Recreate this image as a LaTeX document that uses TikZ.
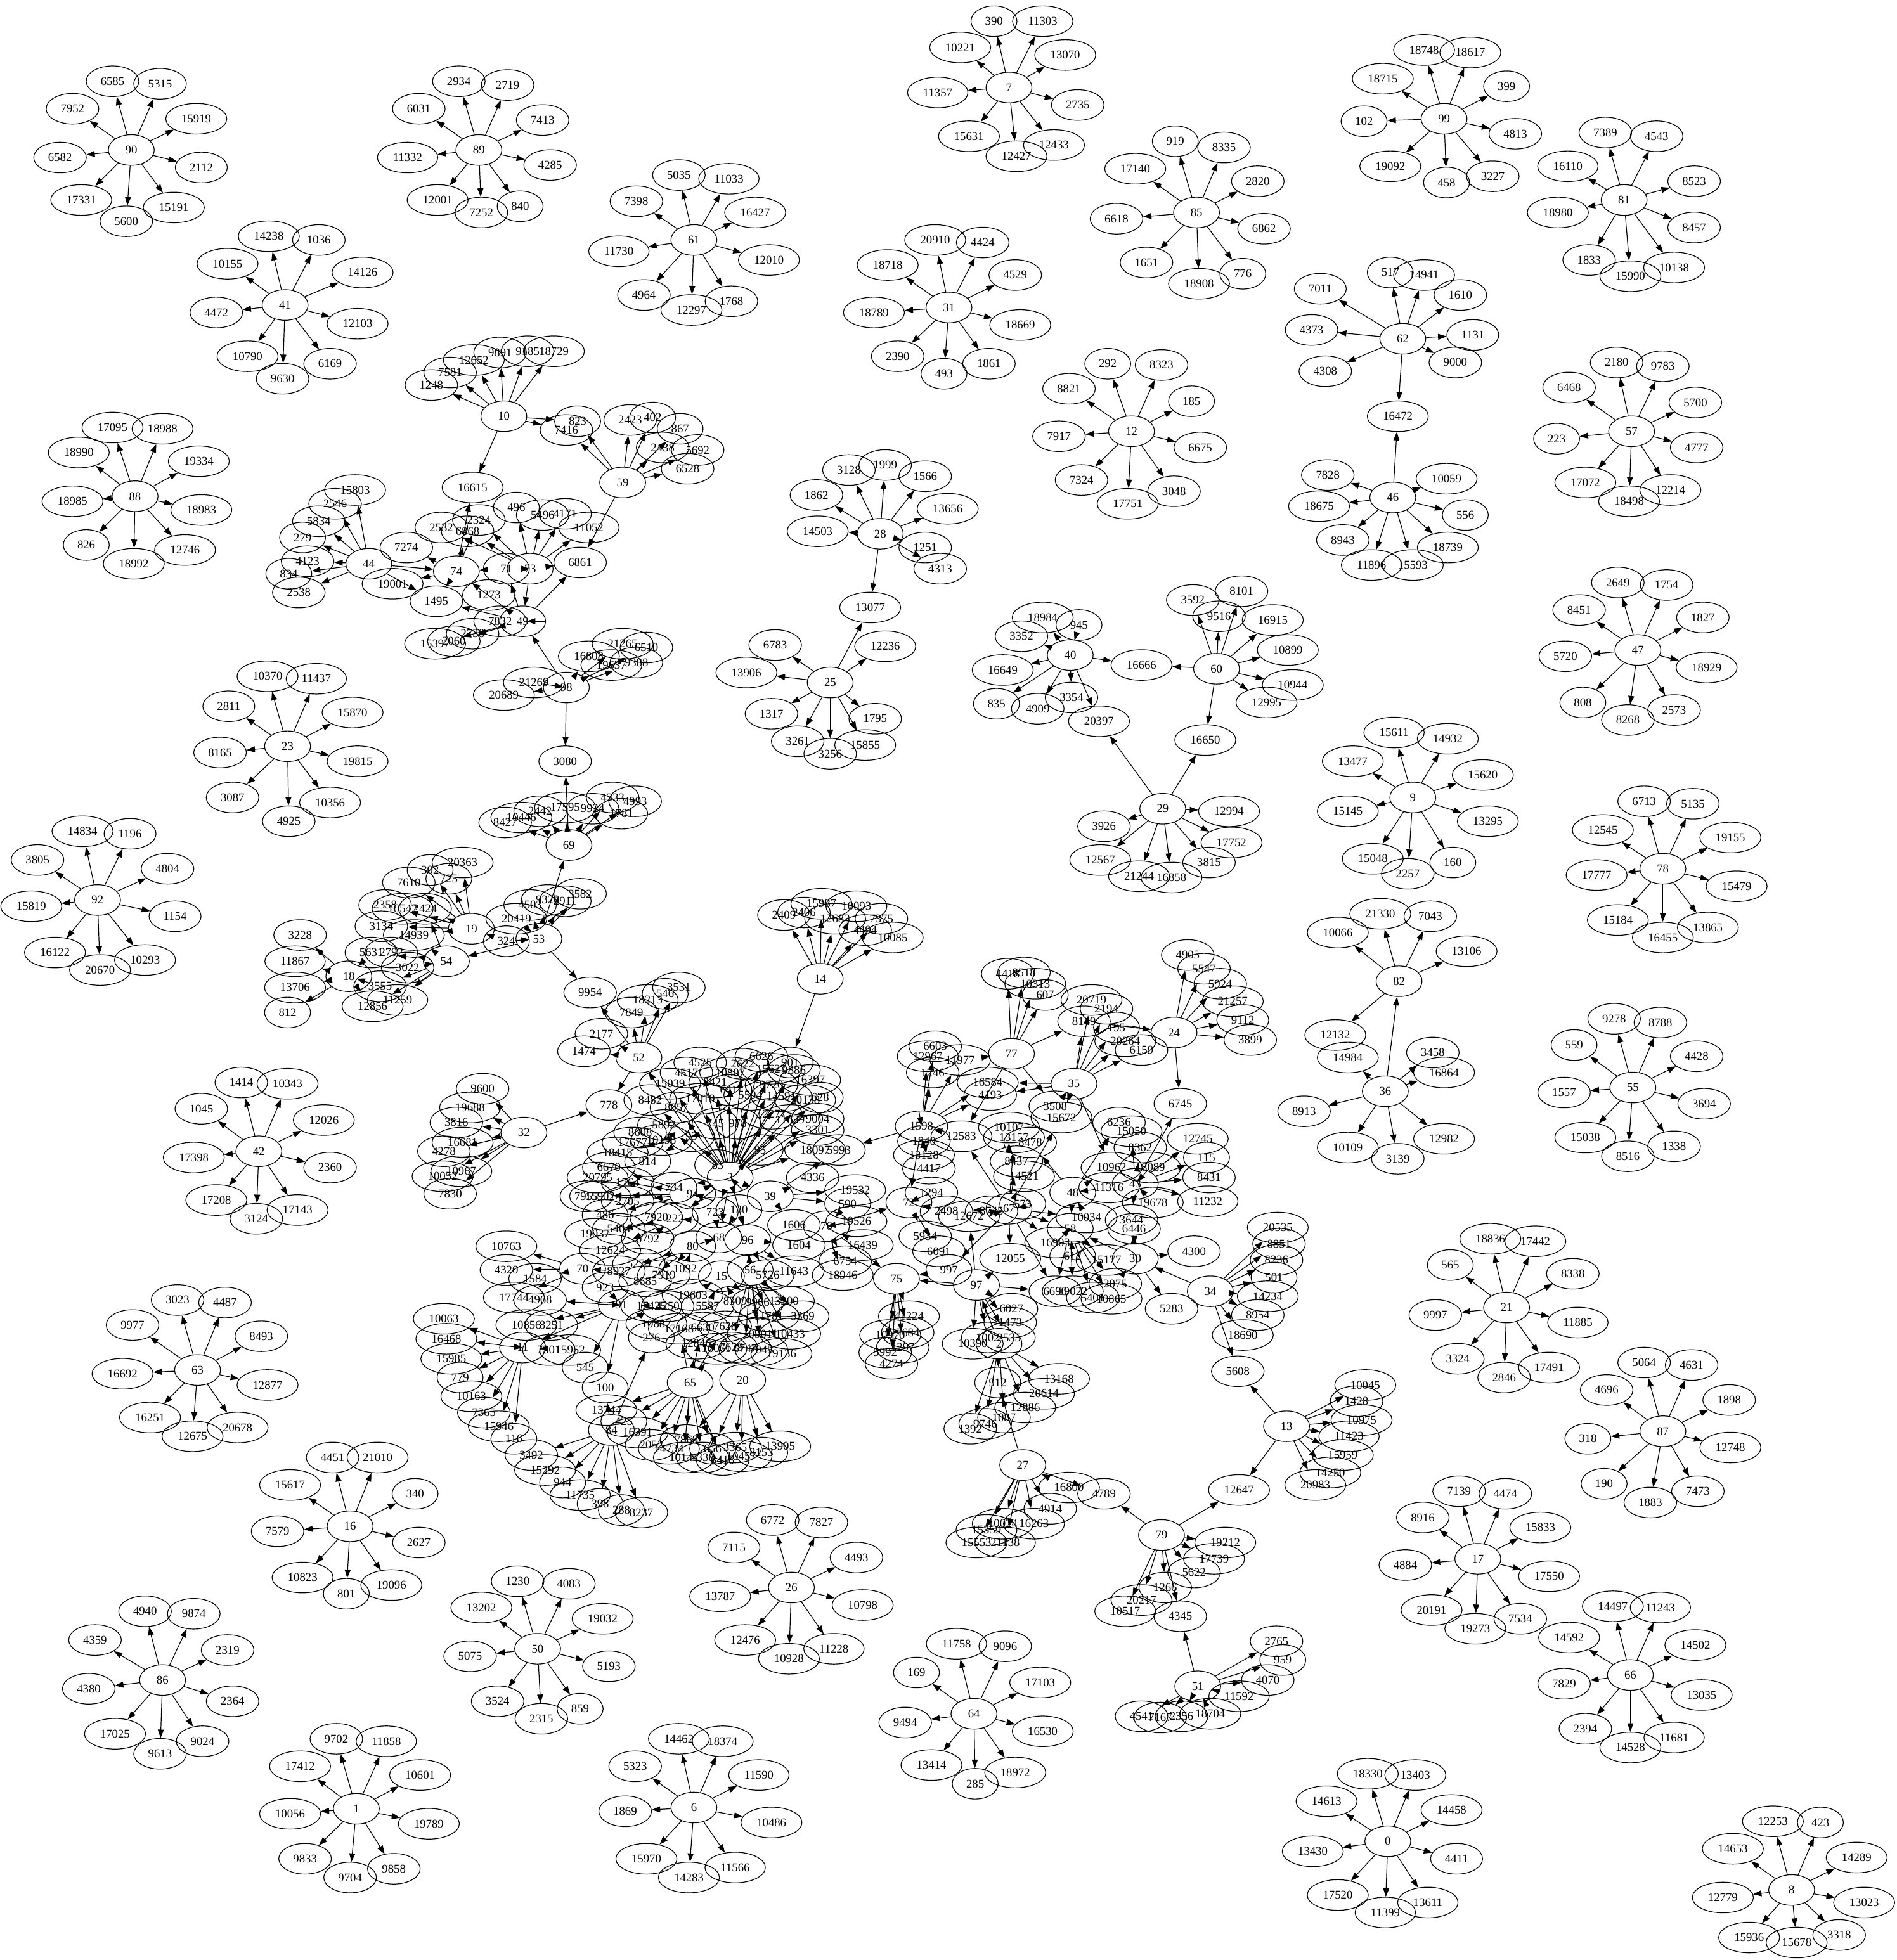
\documentclass[tikz,border=0pt]{standalone}
\usepackage{fontspec}
\setmainfont{Liberation Serif}
\usetikzlibrary{shapes.geometric,arrows.meta}
\tikzset{
  vtx/.style={draw, ellipse, line width=0.9pt, minimum width=0.75in, minimum height=0.5in,
    inner xsep=0.11in, inner ysep=0.055in, font=\fontsize{14pt}{16pt}\selectfont},
  link/.style={line width=0.9pt, -{Triangle[length=10pt,width=7pt]}},
}
\begin{document}
\begin{tikzpicture}[x=0.05184cm, y=-0.05184cm]
\fill[white] (0,0) rectangle (1517,1568);
\useasboundingbox (0,0) rectangle (1517,1568);

% ---------- outer stars ----------
% star 90
\foreach \l/\x/\y in {90/105/120, 6585/90/65, 5315/128/67, 7952/58/87, 15919/157/95, 6582/48/126, 2112/161/134, 17331/65/160, 5600/101/177, 15191/139/166}
  \node[vtx] (n\l) at (\x,\y) {\l};
\foreach \t in {6585,5315,7952,15919,6582,2112,17331,5600,15191} \draw[link] (n90) -- (n\t);
% star 7
\foreach \l/\x/\y in {7/807/70, 390/795/17, 11303/834/17, 10221/768/38, 13070/852/44, 11357/750/74, 2735/862/84, 15631/775/109, 12427/813/125, 12433/843/116}
  \node[vtx] (n\l) at (\x,\y) {\l};
\foreach \t in {390,11303,10221,13070,11357,2735,15631,12427,12433} \draw[link] (n7) -- (n\t);
% star 89
\foreach \l/\x/\y in {89/383/120, 2934/367/65, 2719/406/68, 6031/335/87, 7413/434/96, 11332/326/126, 4285/440/132, 12001/350/160, 7252/385/170, 840/416/165}
  \node[vtx] (n\l) at (\x,\y) {\l};
\foreach \t in {2934,2719,6031,7413,11332,4285,12001,7252,840} \draw[link] (n89) -- (n\t);
% star 99
\foreach \l/\x/\y in {99/1155/95, 18748/1139/40, 18617/1176/42, 18715/1106/63, 399/1205/69, 102/1091/97, 4813/1212/107, 19092/1112/133, 458/1157/146, 3227/1194/141}
  \node[vtx] (n\l) at (\x,\y) {\l};
\foreach \t in {18748,18617,18715,399,102,4813,19092,458,3227} \draw[link] (n99) -- (n\t);
% star 61
\foreach \l/\x/\y in {61/555/192, 5035/543/140, 11033/583/143, 7398/509/161, 16427/604/170, 11730/495/201, 12010/615/208, 4964/515/236, 12297/553/248, 1768/585/241}
  \node[vtx] (n\l) at (\x,\y) {\l};
\foreach \t in {5035,11033,7398,16427,11730,12010,4964,12297,1768} \draw[link] (n61) -- (n\t);
% star 85
\foreach \l/\x/\y in {85/957/170, 919/940/113, 8335/979/118, 17140/908/135, 2820/1006/145, 6618/893/175, 6862/1011/183, 1651/917/210, 776/994/219, 18908/959/227}
  \node[vtx] (n\l) at (\x,\y) {\l};
\foreach \t in {919,8335,17140,2820,6618,6862,1651,776,18908} \draw[link] (n85) -- (n\t);
% star 81
\foreach \l/\x/\y in {81/1299/160, 7389/1284/106, 4543/1325/109, 16110/1254/133, 8523/1355/145, 18980/1246/170, 8457/1355/182, 1833/1271/208, 15990/1304/221, 10138/1339/214}
  \node[vtx] (n\l) at (\x,\y) {\l};
\foreach \t in {7389,4543,16110,8523,18980,8457,1833,15990,10138} \draw[link] (n81) -- (n\t);
% star 41
\foreach \l/\x/\y in {41/228/244, 14238/215/189, 1036/255/192, 10155/182/211, 14126/290/218, 4472/173/250, 12103/286/259, 10790/198/285, 9630/226/303, 6169/264/291}
  \node[vtx] (n\l) at (\x,\y) {\l};
\foreach \t in {14238,1036,10155,14126,4472,12103,10790,9630,6169} \draw[link] (n41) -- (n\t);
% star 31
\foreach \l/\x/\y in {31/759/246, 20910/748/192, 4424/786/194, 18718/710/212, 4529/812/220, 18789/699/250, 18669/816/260, 2390/718/285, 493/755/299, 1861/791/291}
  \node[vtx] (n\l) at (\x,\y) {\l};
\foreach \t in {20910,4424,18718,4529,18789,18669,2390,493,1861} \draw[link] (n31) -- (n\t);
% star 62
\foreach \l/\x/\y in {62/1122/271, 517/1112/218, 14941/1139/220, 7011/1056/231, 1610/1168/236, 4373/1049/264, 1131/1178/268, 4308/1060/297, 9000/1164/290, 16472/1118/333}
  \node[vtx] (n\l) at (\x,\y) {\l};
\foreach \t in {517,14941,7011,1610,4373,1131,4308,9000,16472} \draw[link] (n62) -- (n\t);
% star 57
\foreach \l/\x/\y in {57/1305/345, 2180/1293/290, 9783/1330/293, 6468/1255/310, 5700/1356/322, 223/1245/351, 4777/1357/358, 17072/1268/386, 18498/1303/401, 12214/1336/392}
  \node[vtx] (n\l) at (\x,\y) {\l};
\foreach \t in {2180,9783,6468,5700,223,4777,17072,18498,12214} \draw[link] (n57) -- (n\t);
% star 12
\foreach \l/\x/\y in {12/905/345, 292/886/291, 8323/929/292, 8821/855/311, 185/953/321, 7917/847/349, 6675/960/358, 7324/865/384, 17751/902/403, 3048/939/393}
  \node[vtx] (n\l) at (\x,\y) {\l};
\foreach \t in {292,8323,8821,185,7917,6675,7324,17751,3048} \draw[link] (n12) -- (n\t);
% star 88
\foreach \l/\x/\y in {88/108/397, 17095/90/342, 18988/130/343, 18990/63/362, 19334/159/369, 18985/58/401, 18983/161/408, 826/69/436, 12746/148/440, 18992/107/451}
  \node[vtx] (n\l) at (\x,\y) {\l};
\foreach \t in {17095,18988,18990,19334,18985,18983,826,12746,18992} \draw[link] (n88) -- (n\t);
% star 46
\foreach \l/\x/\y in {46/1114/398, 7828/1062/380, 10059/1157/383, 18675/1055/405, 556/1172/412, 8943/1074/432, 18739/1158/438, 11896/1097/452, 15593/1130/452}
  \node[vtx] (n\l) at (\x,\y) {\l};
\foreach \t in {7828,10059,18675,556,8943,18739,11896,15593,16472} \draw[link] (n46) -- (n\t);
% stars 28 and 25
\foreach \l/\x/\y in {28/704/427, 3128/679/376, 1999/708/372, 1862/653/396, 1566/740/381, 13656/758/407, 14503/654/425, 1251/740/438, 4313/752/455, 13077/696/486,
  25/664/546, 6783/620/516, 12236/708/517, 13906/597/538, 1795/700/575, 1317/617/571, 15855/692/596, 3261/638/593, 3256/664/603}
  \node[vtx] (n\l) at (\x,\y) {\l};
\foreach \t in {3128,1999,1862,1566,13656,14503,1251,4313,13077} \draw[link] (n28) -- (n\t);
\foreach \t in {6783,12236,13906,1795,1317,15855,3261,3256,13077} \draw[link] (n25) -- (n\t);
% stars 40, 60 and 29
\foreach \l/\x/\y in {40/856/524, 18984/834/494, 945/863/500, 3352/817/509, 16649/802/536, 835/797/563, 4909/830/567, 3354/857/558, 16666/913/532, 20397/879/577,
  60/973/535, 3592/954/480, 8101/993/473, 9516/975/493, 16915/1018/496, 10899/1030/520, 10944/1034/548, 12995/1013/562, 16650/964/592,
  29/930/647, 3926/883/661, 12994/983/649, 17752/985/674, 12567/880/688, 21244/911/701, 16858/937/702, 3815/967/690}
  \node[vtx] (n\l) at (\x,\y) {\l};
\foreach \t in {18984,945,3352,16649,835,4909,3354,16666,20397} \draw[link] (n40) -- (n\t);
\foreach \t in {3592,8101,9516,16915,10899,10944,12995,16650,16666} \draw[link] (n60) -- (n\t);
\foreach \t in {3926,12994,17752,12567,21244,16858,3815,16650,20397} \draw[link] (n29) -- (n\t);
% star 47
\foreach \l/\x/\y in {47/1310/520, 2649/1294/466, 1754/1333/468, 8451/1263/488, 1827/1362/494, 5720/1252/525, 18929/1365/534, 808/1266/562, 8268/1302/576, 2573/1339/568}
  \node[vtx] (n\l) at (\x,\y) {\l};
\foreach \t in {2649,1754,8451,1827,5720,18929,808,8268,2573} \draw[link] (n47) -- (n\t);
% star 9
\foreach \l/\x/\y in {9/1130/638, 15611/1115/586, 14932/1158/591, 13477/1082/609, 15620/1186/620, 15145/1078/649, 13295/1190/657, 15048/1098/687, 2257/1126/699, 160/1162/690}
  \node[vtx] (n\l) at (\x,\y) {\l};
\foreach \t in {15611,14932,13477,15620,15145,13295,15048,2257,160} \draw[link] (n9) -- (n\t);
% star 78
\foreach \l/\x/\y in {78/1330/695, 6713/1315/641, 5135/1354/643, 12545/1282/664, 19155/1384/670, 17777/1277/700, 15479/1389/709, 15184/1294/736, 16455/1330/750, 13865/1366/742}
  \node[vtx] (n\l) at (\x,\y) {\l};
\foreach \t in {6713,5135,12545,19155,17777,15479,15184,16455,13865} \draw[link] (n78) -- (n\t);
% stars 82 and 36
\foreach \l/\x/\y in {82/1119/785, 21330/1104/731, 7043/1144/733, 10066/1070/746, 13106/1173/761, 12132/1068/828,
  36/1108/873, 14984/1078/846, 3458/1146/842, 16864/1155/858, 8913/1043/889, 10109/1078/918, 3139/1118/927, 12982/1155/911}
  \node[vtx] (n\l) at (\x,\y) {\l};
\foreach \t in {21330,7043,10066,13106,12132} \draw[link] (n82) -- (n\t);
\foreach \t in {82,14984,3458,16864,8913,10109,3139,12982} \draw[link] (n36) -- (n\t);
% star 55
\foreach \l/\x/\y in {55/1306/870, 9278/1291/815, 8788/1328/818, 559/1259/836, 4428/1357/845, 1557/1251/874, 3694/1363/883, 15038/1268/910, 8516/1302/925, 1338/1339/917}
  \node[vtx] (n\l) at (\x,\y) {\l};
\foreach \t in {9278,8788,559,4428,1557,3694,15038,8516,1338} \draw[link] (n55) -- (n\t);
% star 23
\foreach \l/\x/\y in {23/230/597, 10370/214/541, 11437/253/543, 2811/183/565, 15870/282/570, 8165/176/602, 19815/286/609, 3087/186/638, 10356/264/642, 4925/231/657}
  \node[vtx] (n\l) at (\x,\y) {\l};
\foreach \t in {10370,11437,2811,15870,8165,19815,3087,10356,4925} \draw[link] (n23) -- (n\t);
% star 92
\foreach \l/\x/\y in {92/78/720, 14834/66/665, 1196/104/667, 3805/30/688, 4804/134/695, 15819/25/725, 1154/140/733, 16122/44/762, 20670/80/776, 10293/116/768}
  \node[vtx] (n\l) at (\x,\y) {\l};
\foreach \t in {14834,1196,3805,4804,15819,1154,16122,20670,10293} \draw[link] (n92) -- (n\t);
% star 42
\foreach \l/\x/\y in {42/207/921, 1414/193/866, 10343/230/867, 1045/161/887, 12026/259/896, 17398/155/926, 2360/264/934, 17208/173/960, 3124/205/975, 17143/238/968}
  \node[vtx] (n\l) at (\x,\y) {\l};
\foreach \t in {1414,10343,1045,12026,17398,2360,17208,3124,17143} \draw[link] (n42) -- (n\t);
% star 63
\foreach \l/\x/\y in {63/158/1096, 3023/142/1040, 4487/180/1042, 9977/106/1060, 8493/209/1069, 16692/98/1099, 12877/214/1108, 16251/120/1134, 12675/154/1149, 20678/190/1142}
  \node[vtx] (n\l) at (\x,\y) {\l};
\foreach \t in {3023,4487,9977,8493,16692,12877,16251,12675,20678} \draw[link] (n63) -- (n\t);
% star 16
\foreach \l/\x/\y in {16/280/1221, 4451/266/1166, 21010/302/1166, 15617/232/1188, 340/332/1195, 7579/222/1225, 2627/335/1234, 10823/242/1262, 801/277/1275, 19096/313/1268}
  \node[vtx] (n\l) at (\x,\y) {\l};
\foreach \t in {4451,21010,15617,340,7579,2627,10823,801,19096} \draw[link] (n16) -- (n\t);
% star 86
\foreach \l/\x/\y in {86/130/1344, 4940/116/1289, 9874/155/1291, 4359/76/1312, 2319/182/1320, 4380/71/1351, 2364/186/1361, 17025/92/1387, 9613/128/1403, 9024/162/1393}
  \node[vtx] (n\l) at (\x,\y) {\l};
\foreach \t in {4940,9874,4359,2319,4380,2364,17025,9613,9024} \draw[link] (n86) -- (n\t);
% star 50
\foreach \l/\x/\y in {50/430/1319, 1230/414/1265, 4083/455/1267, 13202/385/1286, 19032/482/1295, 5075/376/1325, 5193/487/1333, 3524/398/1361, 2315/433/1375, 859/464/1367}
  \node[vtx] (n\l) at (\x,\y) {\l};
\foreach \t in {1230,4083,13202,19032,5075,5193,3524,2315,859} \draw[link] (n50) -- (n\t);
% star 1
\foreach \l/\x/\y in {1/285/1447, 9702/269/1391, 11858/309/1393, 17412/240/1413, 10601/336/1420, 10056/232/1451, 19789/343/1459, 9833/244/1487, 9704/280/1502, 9858/315/1495}
  \node[vtx] (n\l) at (\x,\y) {\l};
\foreach \t in {9702,11858,17412,10601,10056,19789,9833,9704,9858} \draw[link] (n1) -- (n\t);
% star 6
\foreach \l/\x/\y in {6/555/1446, 14462/543/1391, 18374/578/1393, 5323/508/1413, 11590/607/1420, 1869/500/1449, 10486/617/1458, 15970/517/1487, 14283/551/1502, 11566/588/1494}
  \node[vtx] (n\l) at (\x,\y) {\l};
\foreach \t in {14462,18374,5323,11590,1869,10486,15970,14283,11566} \draw[link] (n6) -- (n\t);
% star 26
\foreach \l/\x/\y in {26/633/1270, 6772/618/1216, 7827/657/1218, 7115/587/1238, 4493/685/1246, 13787/576/1277, 10798/690/1284, 12476/596/1312, 10928/631/1327, 11228/667/1319}
  \node[vtx] (n\l) at (\x,\y) {\l};
\foreach \t in {6772,7827,7115,4493,13787,10798,12476,10928,11228} \draw[link] (n26) -- (n\t);
% star 64
\foreach \l/\x/\y in {64/779/1371, 11758/765/1315, 9096/804/1317, 169/733/1338, 17103/832/1346, 9494/724/1378, 16530/834/1385, 13414/745/1412, 285/780/1427, 18972/812/1418}
  \node[vtx] (n\l) at (\x,\y) {\l};
\foreach \t in {11758,9096,169,17103,9494,16530,13414,285,18972} \draw[link] (n64) -- (n\t);
% star 0
\foreach \l/\x/\y in {0/1110/1473, 18330/1094/1419, 13403/1132/1420, 14613/1061/1441, 14458/1161/1448, 13430/1050/1481, 4411/1165/1487, 17520/1070/1516, 11399/1108/1530, 13611/1142/1522}
  \node[vtx] (n\l) at (\x,\y) {\l};
\foreach \t in {18330,13403,14613,14458,13430,4411,17520,11399,13611} \draw[link] (n0) -- (n\t);
% star 8
\foreach \l/\x/\y in {8/1433/1512, 12253/1418/1457, 423/1456/1458, 14653/1386/1479, 14289/1485/1486, 12779/1378/1518, 13023/1491/1522, 15936/1399/1550, 15678/1437/1554, 3318/1471/1548}
  \node[vtx] (n\l) at (\x,\y) {\l};
\foreach \t in {12253,423,14653,14289,12779,13023,15936,15678,3318} \draw[link] (n8) -- (n\t);
% star 66
\foreach \l/\x/\y in {66/1304/1340, 14497/1290/1285, 11243/1328/1286, 14592/1255/1310, 14502/1356/1316, 7829/1251/1347, 13035/1361/1356, 2394/1268/1383, 14528/1304/1398, 11681/1339/1390}
  \node[vtx] (n\l) at (\x,\y) {\l};
\foreach \t in {14497,11243,14592,14502,7829,13035,2394,14528,11681} \draw[link] (n66) -- (n\t);
% star 87
\foreach \l/\x/\y in {87/1330/1145, 5064/1315/1090, 4631/1353/1092, 4696/1285/1112, 1898/1383/1120, 318/1270/1151, 12748/1384/1158, 190/1283/1187, 1883/1320/1202, 7473/1358/1193}
  \node[vtx] (n\l) at (\x,\y) {\l};
\foreach \t in {5064,4631,4696,1898,318,12748,190,1883,7473} \draw[link] (n87) -- (n\t);
% star 17
\foreach \l/\x/\y in {17/1182/1247, 7139/1167/1193, 4474/1204/1195, 8916/1138/1214, 15833/1232/1222, 4884/1124/1252, 17550/1239/1261, 20191/1145/1288, 19273/1180/1303, 7534/1216/1295}
  \node[vtx] (n\l) at (\x,\y) {\l};
\foreach \t in {7139,4474,8916,15833,4884,17550,20191,19273,7534} \draw[link] (n17) -- (n\t);
% star 21
\foreach \l/\x/\y in {21/1205/1046, 18836/1192/991, 17442/1228/993, 565/1160/1012, 8338/1258/1019, 9997/1148/1052, 11885/1262/1058, 3324/1166/1087, 2846/1203/1102, 17491/1239/1094}
  \node[vtx] (n\l) at (\x,\y) {\l};
\foreach \t in {18836,17442,565,8338,9997,11885,3324,2846,17491} \draw[link] (n21) -- (n\t);

% ---------- upper left group ----------
\foreach \l/\x/\y in {10/403/333, 1248/345/308, 7581/360/298, 12652/379/288, 9891/400/282, 9185/422/281, 18729/443/281, 823/462/337, 7416/453/344, 16615/378/390,
  59/498/386, 2423/504/336, 402/522/334, 867/544/343, 2438/530/358, 5692/558/360, 6528/550/375,
  496/413/406, 5496/434/412, 4171/452/411, 11052/471/422, 2324/383/416, 2532/353/422, 6868/374/425, 7274/325/438, 6861/464/450,
  44/295/451, 15803/284/392, 2546/268/403, 5834/255/417, 279/242/430, 4123/246/449, 834/231/459, 2538/239/474,
  74/365/457, 71/405/455, 73/424/455, 19001/314/467, 1495/349/481, 1273/391/476, 7832/400/497, 49/418/497, 2738/378/507, 2060/363/513, 15397/348/515,
  98/453/550, 21269/427/546, 20689/403/556, 16808/471/525, 21265/498/515, 6510/517/518, 19637/489/532, 9388/509/530, 3080/452/609}
  \node[vtx] (n\l) at (\x,\y) {\l};
% 69, 53, 19, 54, 18
\foreach \l/\x/\y in {69/455/676, 8427/404/658, 10446/417/654, 2442/432/649, 17595/452/646, 9924/474/647, 4233/490/638, 4993/508/641, 1781/497/651,
  53/431/751, 20419/413/735, 4503/424/724, 9320/438/720, 2911/452/721, 3582/464/715, 324/405/753, 9954/472/794,
  19/377/743, 20363/370/690, 302/344/696, 725/359/703, 7610/327/706, 2358/308/724, 10542/322/727, 2424/340/727, 3134/305/741, 14939/331/748,
  54/357/769, 5631/297/762, 2792/313/762, 3022/326/774, 3555/304/789, 11259/318/800, 12856/298/805,
  18/279/781, 3228/240/748, 11867/236/769, 13706/236/790, 812/230/810}
  \node[vtx] (n\l) at (\x,\y) {\l};
% 52, 32, 14
\foreach \l/\x/\y in {52/511/846, 2177/481/827, 1474/467/841, 778/487/884, 7849/505/810, 18213/518/800, 546/532/795, 3531/543/790,
  32/419/906, 9600/386/871, 19688/376/886, 3816/365/898, 16681/370/914, 4278/355/921, 10967/369/937, 10052/354/941, 7830/360/955,
  14/656/783, 2409/627/732, 2406/643/730, 15987/657/723, 10093/685/725, 12683/668/735, 7375/705/735, 4494/692/744, 10085/714/750}
  \node[vtx] (n\l) at (\x,\y) {\l};

% ---------- dense middle ----------
\foreach \l/\x/\y in {4525/560/850, 4517/549/858, 2622/594/851, 6626/609/845, 901/632/850, 10807/584/858, 15627/617/855, 9886/635/856, 16397/648/864,
  15039/536/867, 3421/572/866, 641/583/872, 5504/600/876, 9720/617/868, 8482/520/880, 17019/560/879, 8057/541/886, 14591/625/877, 20138/644/880, 628/656/878,
  5892/531/900, 745/572/899, 978/590/899, 12277/617/891, 11639/632/896, 9004/654/895, 3301/654/904, 8608/512/906, 17677/506/914, 10198/529/912, 93/553/909,
  18415/494/922, 814/518/929, 95/608/920, 18097/652/920, 5993/671/920, 6670/487/934, 83/574/932, 4336/650/942, 20795/478/942, 1764/502/946,
  734/539/950, 94/554/955, 3/584/942, 39/616/957, 130/591/968, 7955/469/957, 15902/480/957, 2705/502/961, 19532/684/952, 590/678/963, 19526/685/977,
  486/484/972, 7920/525/974, 222/540/975, 723/572/970, 1606/635/980, 76/661/981, 5404/495/983, 19037/476/987, 6792/518/991, 68/575/990, 96/598/992,
  80/554/997, 1604/639/996, 16439/690/996, 12624/488/1000, 6754/676/1009, 18946/674/1020}
  \node[vtx] (n\l) at (\x,\y) {\l};
\foreach \l/\x/\y in {70/466/1015, 5279/511/1011, 8927/495/1017, 7919/531/1020, 1092/548/1015, 15/577/1021, 56/600/1016, 5726/614/1020, 11643/635/1017,
  8685/516/1025, 923/484/1030, 91/497/1044, 19603/554/1036, 17425/521/1045, 4250/534/1045, 5587/566/1045, 8309/588/1041, 9966/606/1042, 13200/627/1041,
  11781/615/1053, 3369/642/1053, 10887/525/1059, 17168/543/1063, 6630/562/1062, 7628/580/1061, 10901/606/1067, 10433/632/1067,
  276/521/1070, 12846/557/1075, 16061/573/1079, 7629/585/1078, 6747/596/1079, 7045/609/1080, 19136/625/1083}
  \node[vtx] (n\l) at (\x,\y) {\l};
\foreach \l/\x/\y in {10763/405/997, 4320/405/1016, 1584/428/1023, 17744/411/1038, 4968/432/1040, 10856/421/1060, 8251/441/1060,
  10063/355/1055, 16468/357/1071, 15985/361/1087, 779/368/1102, 10163/377/1117, 7365/387/1130, 15946/399/1141, 116/411/1151, 3492/425/1164, 15292/436/1176, 944/450/1186,
  11/418/1078, 7301/439/1080, 15952/456/1080, 545/468/1094, 100/484/1110, 13744/485/1128, 425/499/1137, 84/489/1144, 16391/510/1146,
  2052/521/1156, 14734/535/1159, 7868/549/1152, 10141/547/1166, 656/570/1159, 3365/588/1158, 8418/578/1168, 10457/593/1165, 8153/609/1162, 13905/624/1157,
  11735/464/1196, 398/480/1203, 288/497/1208, 8237/513/1210, 65/552/1106, 20/594/1104}
  \node[vtx] (n\l) at (\x,\y) {\l};
\node[vtx] (n1338b) at (562,1166) {1338};

% ---------- right middle ----------
\foreach \l/\x/\y in {6603/748/837, 12967/742/845, 11977/768/848, 1246/746/858, 16584/790/866, 4193/792/876, 1598/737/901, 1840/739/913, 13128/739/924, 4417/743/935,
  1294/745/954, 72/727/962, 2498/757/969, 12672/775/973, 8745/793/969, 67/807/967, 573/818/963, 12583/769/909, 10107/807/902, 13157/811/910, 8478/824/914,
  8437/813/929, 14521/819/941, 3508/844/885, 15672/849/894, 6236/895/898, 15050/905/905, 8362/912/918, 10962/889/934, 18089/920/934, 11316/887/950, 43/908/947,
  48/858/954, 19678/922/962, 12745/958/911, 115/965/926, 8431/967/942, 11232/966/961, 10034/869/974, 58/856/983, 3644/905/976, 6446/907/983,
  16903/844/994, 612/858/1005, 15177/885/1008, 30/908/1007, 4300/955/1001, 5934/740/989, 6091/751/1001, 12055/808/1007, 997/759/1016, 75/717/1023, 97/781/1028,
  6690/844/1033, 19022/858/1033, 2075/892/1027, 5401/874/1038, 10865/889/1039, 5283/937/1047}
  \node[vtx] (n\l) at (\x,\y) {\l};
\foreach \l/\x/\y in {34/968/1033, 20535/1022/982, 8851/1023/995, 8236/1021/1008, 501/1019/1022, 14234/1014/1037, 8954/1006/1052, 18690/994/1068, 5608/990/1097,
  41224/727/1053, 7684/726/1066, 10970/712/1068, 1297/722/1078, 5992/708/1082, 4274/713/1091,
  6027/809/1047, 1473/808/1058, 1002/790/1070, 2535/807/1070, 10390/778/1075, 2/799/1075, 912/798/1106, 13168/847/1103, 20614/835/1115, 12886/820/1126,
  1087/803/1134, 9746/788/1139, 1392/776/1143, 27/818/1172, 16800/855/1190, 4789/883/1195, 4914/840/1207, 10024/802/1219, 16263/827/1219, 15359/789/1224,
  15553/781/1234, 21138/804/1234, 79/929/1228, 19212/980/1234, 17739/971/1247, 5622/955/1258, 1266/932/1270, 20217/913/1280, 10517/900/1289, 4345/944/1293,
  12647/991/1192, 13/1029/1141, 10045/1092/1108, 1428/1085/1121, 10975/1089/1136, 11423/1079/1149, 15959/1074/1164, 14250/1064/1178, 20983/1052/1188,
  51/958/1349, 2765/1021/1313, 959/1026/1328, 4070/1014/1344, 11592/991/1357, 18704/968/1371, 2356/945/1373, 7167/928/1374, 4541/913/1373}
  \node[vtx] (n\l) at (\x,\y) {\l};
% 77, 35, 24
\foreach \l/\x/\y in {77/809/843, 4418/806/779, 8518/819/778, 10313/828/787, 607/836/796, 20719/873/800, 2194/885/807, 8149/867/817, 195/893/822, 20264/900/833,
  6159/913/840, 24/939/826, 4905/950/764, 5547/963/775, 5924/976/787, 21257/986/801, 9112/994/816, 3899/1000/832, 6745/944/883, 35/859/867}
  \node[vtx] (n\l) at (\x,\y) {\l};

% ---------- connectors ----------
\foreach \t in {1248,7581,12652,9891,9185,18729,823,7416,16615} \draw[link] (n10) -- (n\t);
\foreach \t in {7416,823,2423,402,867,2438,5692,6528,6861} \draw[link] (n59) -- (n\t);
\foreach \t in {15803,2546,5834,279,4123,834,2538,74,1495} \draw[link] (n44) -- (n\t);
\foreach \t in {16615,6868,2324,7274,19001,1495} \draw[link] (n74) -- (n\t);
\draw[link] (n71) -- (n74);
\foreach \t in {71,496,5496,4171,11052,6861,2532,2324,6868,49} \draw[link] (n73) -- (n\t);
\foreach \t in {6861,1495,74,71,1273,7832,2738,2060,15397} \draw[link] (n49) -- (n\t);
\foreach \t in {16808,19637,9388,21265,6510,21269,20689,49,3080} \draw[link] (n98) -- (n\t);
\foreach \t in {3080,8427,10446,2442,17595,9924,4233,4993,1781} \draw[link] (n69) -- (n\t);
\foreach \t in {20419,4503,9320,2911,3582,69,324,54,9954} \draw[link] (n53) -- (n\t);
\foreach \t in {20363,725,302,7610,10542,2424,2358,3134,14939,324} \draw[link] (n19) -- (n\t);
\foreach \t in {14939,5631,2792,3022,3555,11259,12856,2424} \draw[link] (n54) -- (n\t);
\foreach \t in {5631,3555,12856,3228,11867,13706,812} \draw[link] (n18) -- (n\t);
\foreach \t in {778,1474,2177,7849,18213,546,3531,9954} \draw[link] (n52) -- (n\t);
\foreach \t in {9600,19688,3816,16681,4278,10967,10052,7830,778} \draw[link] (n32) -- (n\t);
\foreach \t in {2409,2406,15987,10093,12683,7375,4494,10085,901} \draw[link] (n14) -- (n\t);
\foreach \t in {4525,4517,2622,6626,10807,15627,9886,16397,15039,3421,641,5504,9720,8482,17019,8057,14591,20138,628,5892,745,978,12277,11639,9004,3301,18097,130,39,94,68,96,95,83,723,93,734,222}
  \draw[link] (n3) -- (n\t);
\foreach \t in {52,8608,17677,10198,18415,814} \draw[link] (n93) -- (n\t);
\foreach \t in {6670,20795,1764,7955,15902,2705,486,734} \draw[link] (n94) -- (n\t);
\foreach \t in {19532,590,5993,4336,1606} \draw[link] (n39) -- (n\t);
\foreach \t in {7920,5404,19037,6792,12624} \draw[link] (n222) -- (n\t);
\foreach \t in {80,130,723} \draw[link] (n68) -- (n\t);
\foreach \t in {130,56,5726,11643,1604} \draw[link] (n96) -- (n\t);
\foreach \t in {5279,8927,7919,1092,8685} \draw[link] (n80) -- (n\t);
\foreach \t in {19603,5587,8309,9966} \draw[link] (n15) -- (n\t);
\foreach \t in {13200,11781,3369,10901,10433,7045,19136,6747,7629} \draw[link] (n56) -- (n\t);
\foreach \t in {923,17425,4250,10887,10856,8251,4968,545,100,11} \draw[link] (n91) -- (n\t);
\foreach \t in {10763,4320,1584,17744,8927} \draw[link] (n70) -- (n\t);
\foreach \t in {12846,16061,6630,17168,7628,13744,425,16391,2052,14734,7868,10141,1338b,656,8418} \draw[link] (n65) -- (n\t);
\foreach \t in {3365,10457,8153,13905,656,7868} \draw[link] (n20) -- (n\t);
\foreach \t in {276,100,3492,15292,944,11735,398,288,8237} \draw[link] (n84) -- (n\t);
\foreach \t in {10063,16468,15985,779,10163,7365,15946,116,7301,15952} \draw[link] (n11) -- (n\t);
\foreach \t in {16439,6754,18946,75,72,19526,590} \draw[link] (n76) -- (n\t);
\foreach \t in {6603,12967,1246,11977,16584,4193,12583,5993,1840,13128,4417,72} \draw[link] (n1598) -- (n\t);
\foreach \t in {4418,8518,10313,607,8149,11977,12583,3508} \draw[link] (n77) -- (n\t);
\foreach \t in {20719,2194,8149,195,20264,6159,16584,4193,3508,15672,10962} \draw[link] (n35) -- (n\t);
\draw[link] (n8149) -- (n24);
\foreach \t in {4905,5547,5924,21257,9112,3899,6745} \draw[link] (n24) -- (n\t);
\foreach \t in {12583,10107,13157,8437,14521,15672,2498,12672,8745,10034,58,16903,12055,6690,997,573} \draw[link] (n67) -- (n\t);
\foreach \t in {10962,11316,8478,6236,10034,58} \draw[link] (n48) -- (n\t);
\foreach \t in {12745,115,8431,11232,19678,3644,6745,18089,15050,8362} \draw[link] (n43) -- (n\t);
\foreach \t in {612,16903,15177,2075,19022,10865,5401,6690} \draw[link] (n58) -- (n\t);
\foreach \t in {4300,5283,2075,3644,6446,58} \draw[link] (n30) -- (n\t);
\foreach \t in {30,20535,8851,8236,501,14234,8954,18690,5608} \draw[link] (n34) -- (n\t);
\foreach \t in {5934,6091,2498,1294} \draw[link] (n72) -- (n\t);
\foreach \t in {41224,7684,10970,1297,5992,4274} \draw[link] (n75) -- (n\t);
\draw[link] (n997) -- (n75);
\foreach \t in {75,12672,12055,6027,1473,2535,1002,10390,6690} \draw[link] (n97) -- (n\t);
\foreach \t in {97,912,13168,20614,12886,1087,9746,1392} \draw[link] (n2) -- (n\t);
\foreach \t in {912,4789,4914,16263,10024,15359,15553,21138} \draw[link] (n27) -- (n\t);
\draw[link] (n16800) -- (n27);
\foreach \t in {4789,12647,19212,17739,5622,1266,20217,10517,4345} \draw[link] (n79) -- (n\t);
\foreach \t in {4345,2765,959,4070,11592,18704,2356,7167,4541} \draw[link] (n51) -- (n\t);
\foreach \t in {5608,12647,10045,1428,10975,11423,15959,14250,20983} \draw[link] (n13) -- (n\t);
\end{tikzpicture}
\end{document}
